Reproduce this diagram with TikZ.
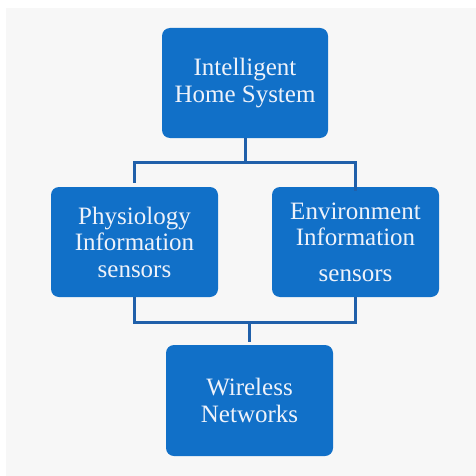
\documentclass[tikz,border=0pt]{standalone}
\usepackage{fontspec}
\setmainfont{Liberation Serif}
\definecolor{boxblue}{RGB}{17,112,200}
\definecolor{lineblue}{RGB}{32,96,170}
\definecolor{bgray}{RGB}{247,247,247}
\definecolor{txt}{RGB}{238,242,250}
\begin{document}
\begin{tikzpicture}[x=1pt,y=-1pt,
  box/.style={fill=boxblue, rounded corners=8pt, text=txt, align=center,
    font=\fontsize{25}{26.5}\selectfont, inner sep=0pt,
    minimum width=166pt, minimum height=110pt},
  conn/.style={draw=lineblue, line width=3pt}]
\useasboundingbox (0,0) rectangle (476,476);
\fill[bgray] (6,8) rectangle (476,476);
\node[box] (top) at (245,83) {Intelligent\\Home System};
\node[box, minimum width=167pt] (phys) at (134.5,242) {Physiology\\Information\\sensors};
\node[box, minimum width=167pt] (env) at (355.5,242) {Environment\\Information\\[9pt]sensors};
\node[box, minimum width=167pt, minimum height=111pt] (wire) at (249.5,400.5) {Wireless\\Networks};
\coordinate (jt) at (245,162);
\coordinate (jb) at (249.5,322);
\draw[conn] (top.south) -- (jt);
\draw[conn, shorten <=4pt] (phys.north) |- (jt) -| ([yshift=-4pt]env.north);
\draw[conn] (phys.south) |- (jb) -| (env.south);
\draw[conn, shorten >=3pt] (jb) -- (wire.north);
\end{tikzpicture}
\end{document}
